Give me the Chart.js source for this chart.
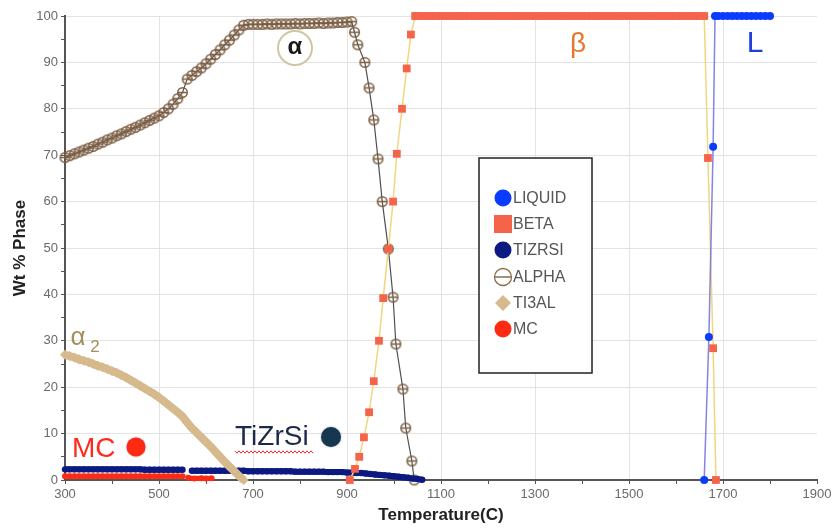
<!DOCTYPE html>
<html lang="en">
<head>
    <meta charset="UTF-8">
    <title>Wt % Phase vs Temperature</title>
    <script src="https://cdn.jsdelivr.net/npm/chart.js"></script>
    <style>
        body { margin: 0; background: #fff; }
        #wrap { width: 836px; height: 532px; }
    </style>
</head>
<body>
    <div id="wrap"><canvas id="myChart" width="836" height="532"></canvas></div>

    <script>
        // temperatures (C) and wt % for each phase
        // (null marks the small break in the low-temperature curves)
        const liquidT = [1660, 1670, 1679, 1683, 1690, 1700, 1710, 1720, 1730, 1740, 1750, 1760, 1770, 1780, 1790, 1800];
        const liquidW = [0, 30.8, 71.8, 100, 100, 100, 100, 100, 100, 100, 100, 100, 100, 100, 100, 100];

        const betaT = [906, 917, 926, 936, 947, 957, 968, 977, 988, 998, 1006, 1017, 1027, 1036, 1045,
            1050, 1060, 1070, 1080, 1090, 1100, 1110, 1120, 1130, 1140, 1150, 1160, 1170, 1180, 1190,
            1200, 1210, 1220, 1230, 1240, 1250, 1260, 1270, 1280, 1290, 1300, 1310, 1320, 1330, 1340,
            1350, 1360, 1370, 1380, 1390, 1400, 1410, 1420, 1430, 1440, 1450, 1460, 1470, 1480, 1490,
            1500, 1510, 1520, 1530, 1540, 1550, 1560, 1570, 1580, 1590, 1600, 1610, 1620, 1630, 1640,
            1650, 1660, 1668, 1679, 1685];
        const betaW = [0, 2.4, 5.0, 9.2, 14.6, 21.3, 30.0, 39.2, 49.8, 60.0, 70.3, 80.0, 88.7, 96.0, 100,
            100, 100, 100, 100, 100, 100, 100, 100, 100, 100, 100, 100, 100, 100, 100,
            100, 100, 100, 100, 100, 100, 100, 100, 100, 100, 100, 100, 100, 100, 100,
            100, 100, 100, 100, 100, 100, 100, 100, 100, 100, 100, 100, 100, 100, 100,
            100, 100, 100, 100, 100, 100, 100, 100, 100, 100, 100, 100, 100, 100, 100,
            100, 100, 69.4, 28.4, 0];

        const tizrsiT = [300, 310, 320, 330, 340, 350, 360, 370, 380, 390, 400, 410, 420, 430, 440,
            450, 460, 470, 480, 490, 500, 510, 520, 530, 540, 550, 560,
            570, 580, 590, 600, 610, 620, 630, 640, 650, 660, 670, 680, 690, 700, 710, 720, 730, 740,
            750, 760, 770, 780, 790, 800, 810, 820, 830, 840, 850, 860, 870, 880, 890, 900, 910, 920,
            930, 940, 950, 960, 970, 980, 990, 1000, 1010, 1020, 1030, 1040, 1050, 1060];
        const tizrsiW = [2.3, 2.3, 2.3, 2.3, 2.3, 2.3, 2.3, 2.3, 2.3, 2.3, 2.3, 2.3, 2.3, 2.3, 2.3,
            2.3, 2.3, 2.2, 2.2, 2.2, 2.2, 2.2, 2.2, 2.2, 2.2, 2.2, null,
            2.0, 2.0, 2.0, 2.0, 2.0, 2.0, 2.0, 2.0, 2.0, 2.0, 2.0, 2.0, 1.9, 1.9, 1.9, 1.9, 1.9, 1.9,
            1.9, 1.9, 1.9, 1.9, 1.8, 1.8, 1.8, 1.8, 1.8, 1.8, 1.8, 1.7, 1.7, 1.7, 1.7, 1.6, 1.6, 1.5,
            1.5, 1.4, 1.3, 1.2, 1.1, 1.0, 0.9, 0.8, 0.7, 0.6, 0.5, 0.3, 0.2, 0.05];

        const alphaT = [300, 310, 320, 330, 340, 350, 360, 370, 380, 390, 400, 410, 420, 430, 440,
            450, 460, 470, 480, 490, 500, 510, 520, 530, 540, 550, 560, 570, 580, 590, 600, 610, 620,
            630, 640, 650, 660, 670, 680, 690, 700, 710, 720, 730, 740, 750, 760, 770, 780, 790, 800,
            810, 820, 830, 840, 850, 860, 870, 880, 890, 900, 910,
            916, 923, 938, 947, 957, 966, 975, 988, 998, 1004, 1019, 1025, 1038, 1043];
        const alphaW = [69.5, 69.9, 70.3, 70.7, 71.1, 71.5, 71.9, 72.4, 72.8, 73.3, 73.7, 74.2, 74.6, 75.1, 75.6,
            76.0, 76.5, 77.0, 77.5, 78.0, 78.5, 79.2, 80.0, 81.0, 82.2, 83.5, 86.4, 87.2, 88.0, 88.8, 89.7, 90.7, 91.7,
            92.7, 93.8, 94.8, 95.9, 97.0, 98.0, 98.2, 98.2, 98.2, 98.2, 98.3, 98.2, 98.3, 98.3, 98.3, 98.3, 98.4, 98.3,
            98.4, 98.4, 98.4, 98.5, 98.4, 98.5, 98.5, 98.6, 98.6, 98.7, 98.8,
            96.5, 93.8, 90.0, 84.5, 77.6, 69.2, 60.0, 49.8, 39.4, 29.3, 19.6, 11.2, 4.1, 0];

        const ti3alT = [300, 310, 320, 330, 340, 350, 360, 370, 380, 390, 400, 410, 420, 430, 440,
            450, 460, 470, 480, 490, 500, 510, 520, 530, 540, 550, 560, 570, 580, 590, 600, 610, 620, 630,
            640, 650, 660, 670, 680];
        const ti3alW = [27.0, 26.7, 26.4, 26.0, 25.7, 25.4, 25.0, 24.6, 24.3, 23.9, 23.5, 23.1, 22.6, 22.1, 21.5,
            20.9, 20.3, 19.7, 19.1, 18.5, 17.8, 17.0, 16.2, 15.4, 14.6, 13.7, 12.4, 11.2, 10.2, 9.2, 8.2, 7.2, 6.1, 5.0,
            3.9, 2.9, 1.9, 0.9, 0];

        const mcT = [300, 310, 320, 330, 340, 350, 360, 370, 380, 390, 400, 410, 420, 430, 440,
            450, 460, 470, 480, 490, 500, 510, 520, 530, 540, 550, 556, 562, 575, 590, 600, 612];
        const mcW = [0.8, 0.8, 0.8, 0.8, 0.8, 0.8, 0.8, 0.8, 0.8, 0.8, 0.8, 0.8, 0.8, 0.8, 0.8,
            0.8, 0.8, 0.8, 0.8, 0.8, 0.8, 0.8, 0.8, 0.8, 0.8, 0.8, null, 0.5, 0.3, 0.4, 0.3, 0.4];

        const phaseNames = ['LIQUID', 'BETA', 'TIZRSI', 'ALPHA', 'TI3AL', 'MC'];

        const FONT = '"Liberation Sans", Arial, sans-serif';

        // open circle with a bar through it, used for ALPHA
        function alphaMarker(r) {
            const c = document.createElement('canvas');
            const s = Math.ceil(r * 2 + 3);
            c.width = s; c.height = s;
            const g = c.getContext('2d');
            g.strokeStyle = '#7b5d42';
            g.lineWidth = 1.4;
            g.beginPath();
            g.arc(s / 2, s / 2, r, 0, Math.PI * 2);
            g.moveTo(s / 2 - r, s / 2);
            g.lineTo(s / 2 + r, s / 2);
            g.stroke();
            return c;
        }

        const pts = (xs, ys) => xs.map((x, i) => ({ x: x, y: ys[i] }));

        const datasets = [
            { label: phaseNames[0], data: pts(liquidT, liquidW), borderColor: 'rgba(110,110,225,0.85)', borderWidth: 1.5,
              pointStyle: 'circle', pointRadius: 4, pointBackgroundColor: '#0a3cff', pointBorderWidth: 0 },
            { label: phaseNames[1], data: pts(betaT, betaW), borderColor: '#f2d67f', borderWidth: 1.5,
              pointStyle: 'rect', pointRadius: 5.5, pointBackgroundColor: '#f5634a', pointBorderWidth: 0 },
            { label: phaseNames[2], data: pts(tizrsiT, tizrsiW), borderColor: '#0b1a80', borderWidth: 6,
              pointStyle: 'circle', pointRadius: 3.2, pointBackgroundColor: '#0b1a80', pointBorderWidth: 0 },
            { label: phaseNames[3], data: pts(alphaT, alphaW), borderColor: '#505050', borderWidth: 1.2,
              pointStyle: alphaMarker(4.8), pointRadius: 4.8 },
            { label: phaseNames[4], data: pts(ti3alT, ti3alW), borderColor: '#d6b98c', borderWidth: 8, order: -1,
              pointStyle: 'rectRot', pointRadius: 5, pointBackgroundColor: '#d6b98c', pointBorderWidth: 0 },
            { label: phaseNames[5], data: pts(mcT, mcW), borderColor: '#ff2a12', borderWidth: 5,
              pointStyle: 'circle', pointRadius: 3, pointBackgroundColor: '#ff2a12', pointBorderWidth: 0 }
        ];
        datasets.forEach(d => {
            d.showLine = true;
            d.spanGaps = false;
            d.clip = false;
            d.pointBorderColor = d.pointBackgroundColor;
            d.pointHoverRadius = d.pointRadius;
        });

        // legend box and the phase labels written on the plot
        const decorations = {
            id: 'decorations',
            afterDraw(chart) {
                const ctx = chart.ctx;
                ctx.save();

                // legend
                ctx.fillStyle = '#fff';
                ctx.fillRect(479, 158, 113, 215);
                ctx.strokeStyle = '#222';
                ctx.lineWidth = 1.5;
                ctx.strokeRect(479, 158, 113, 215);
                const rows = [198, 224, 250, 277, 303, 329];
                const mx = 503;
                ctx.font = '16px ' + FONT;
                ctx.textBaseline = 'middle';
                rows.forEach((y, i) => {
                    ctx.beginPath();
                    if (i === 0 || i === 2 || i === 5) {
                        ctx.fillStyle = ['#0a3cff', '', '#0b1a80', '', '', '#ff2a12'][i];
                        ctx.arc(mx, y, 8.5, 0, Math.PI * 2);
                        ctx.fill();
                    } else if (i === 1) {
                        ctx.fillStyle = '#f5634a';
                        ctx.fillRect(mx - 9, y - 9, 18, 18);
                    } else if (i === 3) {
                        ctx.strokeStyle = '#8a6d50';
                        ctx.lineWidth = 1.3;
                        ctx.arc(mx, y, 8.5, 0, Math.PI * 2);
                        ctx.moveTo(mx - 8.5, y);
                        ctx.lineTo(mx + 8.5, y);
                        ctx.stroke();
                    } else {
                        ctx.fillStyle = '#d6b98c';
                        ctx.moveTo(mx - 8, y); ctx.lineTo(mx, y - 8);
                        ctx.lineTo(mx + 8, y); ctx.lineTo(mx, y + 8);
                        ctx.closePath();
                        ctx.fill();
                    }
                    ctx.fillStyle = '#555';
                    ctx.textAlign = 'left';
                    ctx.fillText(phaseNames[i], 513, y + 1);
                });

                // alpha bubble
                ctx.beginPath();
                ctx.arc(295, 48, 17, 0, Math.PI * 2);
                ctx.fillStyle = '#fff';
                ctx.fill();
                ctx.strokeStyle = '#cfc6a3';
                ctx.lineWidth = 2;
                ctx.stroke();
                ctx.textAlign = 'center';
                ctx.textBaseline = 'middle';
                ctx.fillStyle = '#1a1a1a';
                ctx.font = 'bold 24px ' + FONT;
                ctx.fillText('α', 295, 47);

                ctx.fillStyle = '#e8772e';
                ctx.font = '28px ' + FONT;
                ctx.fillText('β', 578, 44);

                ctx.fillStyle = '#1f3fe0';
                ctx.font = '30px ' + FONT;
                ctx.fillText('L', 755, 44);

                ctx.fillStyle = '#a38f5a';
                ctx.font = '26px ' + FONT;
                ctx.fillText('α', 78, 338);
                ctx.font = '17px ' + FONT;
                ctx.fillText('2', 95, 347);

                ctx.textAlign = 'left';
                ctx.textBaseline = 'alphabetic';
                ctx.fillStyle = '#ff2a1a';
                ctx.font = '28px ' + FONT;
                ctx.fillText('MC', 72, 457);

                ctx.fillStyle = '#1b2a48';
                ctx.fillText('TiZrSi', 235, 445);

                // spell-check squiggle under TiZrSi
                ctx.beginPath();
                ctx.strokeStyle = '#e23030';
                ctx.lineWidth = 1;
                for (let x = 235, k = 0; x <= 313; x += 2, k++) {
                    const y = 452 + (k % 2 ? 1.2 : -1.2);
                    if (k === 0) ctx.moveTo(x, y); else ctx.lineTo(x, y);
                }
                ctx.stroke();

                ctx.shadowColor = 'rgba(40,60,120,0.5)';
                ctx.shadowBlur = 2;
                ctx.beginPath();
                ctx.arc(136, 447, 9.5, 0, Math.PI * 2);
                ctx.fillStyle = '#ff2a12';
                ctx.fill();
                ctx.beginPath();
                ctx.arc(331, 437, 10, 0, Math.PI * 2);
                ctx.fillStyle = '#17364f';
                ctx.fill();

                ctx.restore();
            }
        };

        const ctx = document.getElementById('myChart').getContext('2d');
        new Chart(ctx, {
            type: 'scatter',
            data: { datasets: datasets },
            plugins: [decorations],
            options: {
                responsive: false,
                animation: false,
                layout: { padding: { top: 16, right: 19, left: 0, bottom: 0 } },
                plugins: { legend: { display: false }, tooltip: { enabled: false } },
                scales: {
                    x: {
                        type: 'linear', min: 300, max: 1900,
                        afterFit: s => { s.height = 52; },
                        ticks: {
                            stepSize: 100, autoSkip: false, maxRotation: 0, padding: 3,
                            color: '#6a6a6a', font: { family: FONT, size: 13 },
                            callback: v => ((v - 300) % 200 === 0 ? v : '')
                        },
                        grid: {
                            color: c => (c.tick && (c.tick.value - 300) % 200 === 0 && c.tick.value < 1900 ? '#e3e3e3' : 'rgba(0,0,0,0)'),
                            tickColor: '#555', tickLength: 4, lineWidth: 1
                        },
                        border: { color: '#555', width: 2 },
                        title: { display: true, text: 'Temperature(C)', color: '#222',
                                 font: { family: FONT, size: 17, weight: 'bold' }, padding: { top: 0, bottom: 6 } }
                    },
                    y: {
                        min: 0, max: 100,
                        afterFit: s => { s.width = 65; },
                        ticks: {
                            stepSize: 5, autoSkip: false, padding: 3,
                            color: '#6a6a6a', font: { family: FONT, size: 13 },
                            callback: v => (v % 10 === 0 ? v : '')
                        },
                        grid: {
                            color: c => (c.tick && c.tick.value % 10 === 0 && c.tick.value > 0 ? '#e3e3e3' : 'rgba(0,0,0,0)'),
                            tickColor: '#555', tickLength: 4, lineWidth: 1
                        },
                        border: { color: '#555', width: 2 },
                        title: { display: true, text: 'Wt % Phase', color: '#222',
                                 font: { family: FONT, size: 17, weight: 'bold' }, padding: { top: 10, bottom: 0 } }
                    }
                }
            }
        });
    </script>
</body>
</html>
